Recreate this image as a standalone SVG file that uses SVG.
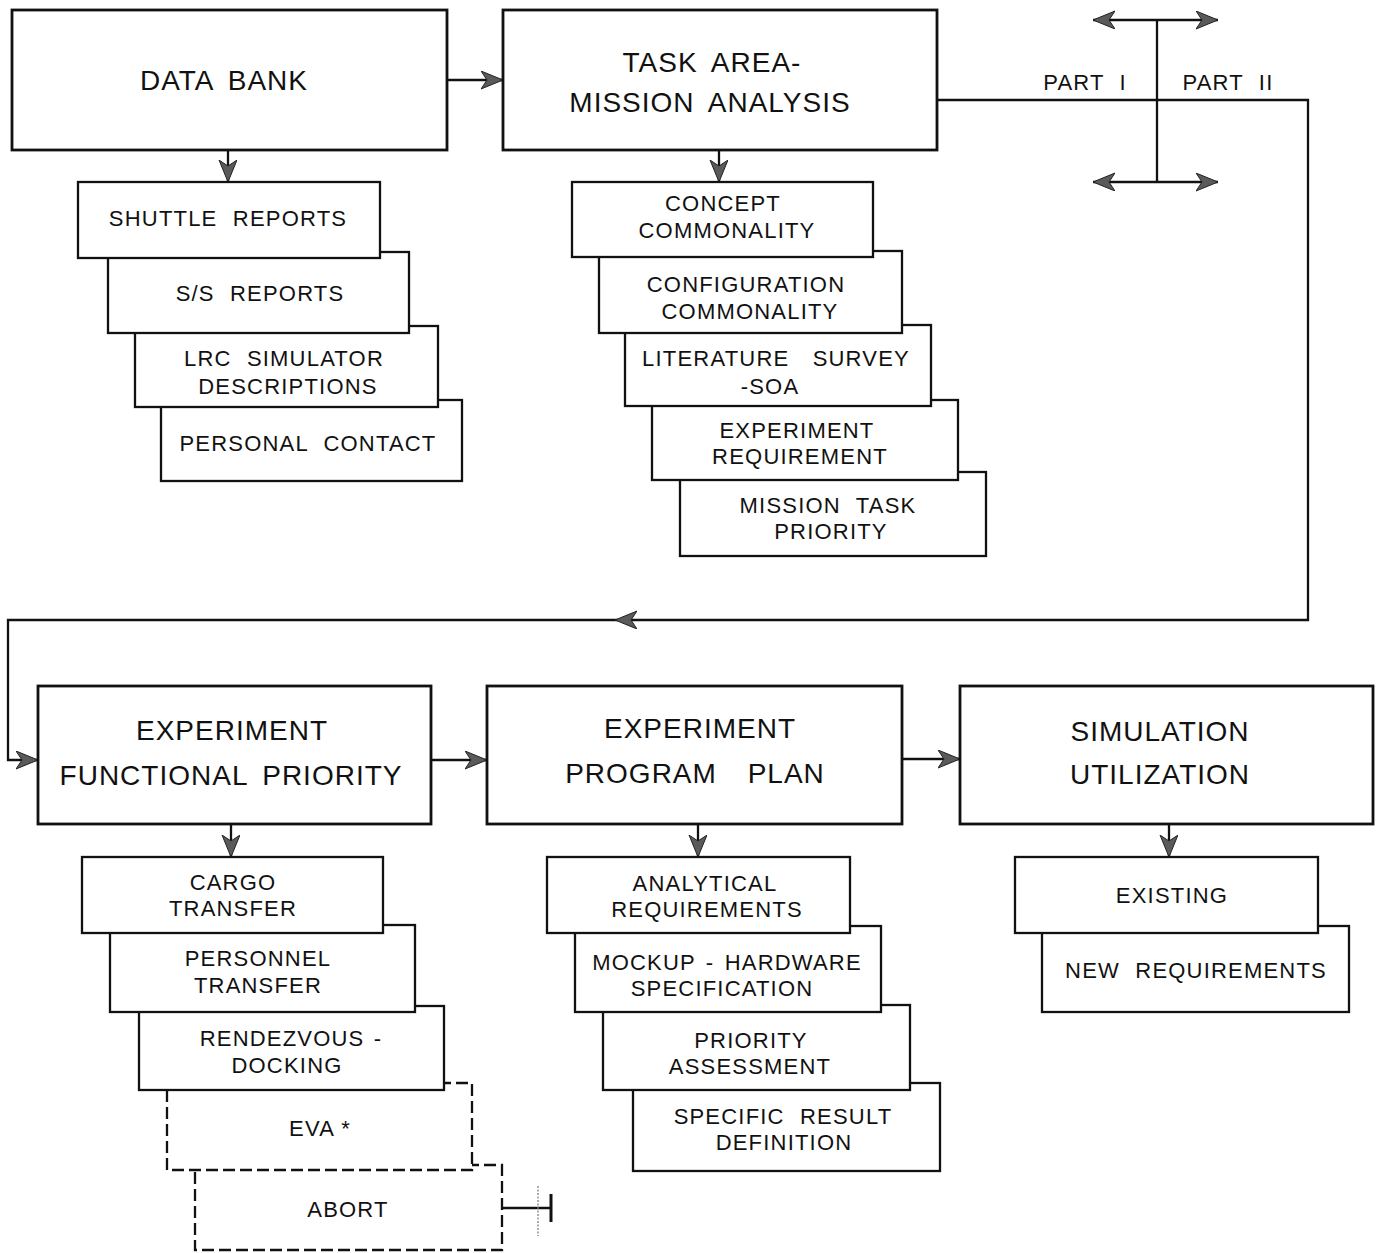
<svg xmlns="http://www.w3.org/2000/svg" width="1381" height="1253" viewBox="0 0 1381 1253">
<defs>
<style>
.main{fill:#fff;stroke:#111;stroke-width:2.8}
.sub{fill:#fff;stroke:#111;stroke-width:2.3}
.dash{fill:#fff;stroke:#111;stroke-width:2.3;stroke-dasharray:12 5}
.t1{font-family:"Liberation Sans",Arial,sans-serif;font-size:28px;letter-spacing:1px;word-spacing:6px;fill:#111;text-anchor:middle}
.t2{font-family:"Liberation Sans",Arial,sans-serif;font-size:22px;letter-spacing:1.2px;word-spacing:8px;fill:#111;text-anchor:middle}
.c{fill:none;stroke:#111;stroke-width:2.3}
</style>
<marker id="ah" markerUnits="userSpaceOnUse" markerWidth="24" markerHeight="20" refX="22" refY="9" orient="auto">
<path d="M0,0 L22,9 L0,18 L6,9 Z" fill="#5a5a5a" stroke="#222" stroke-width="1"/>
</marker>
</defs>
<rect width="1381" height="1253" fill="#fff"/>

<g id="connectors">
<path class="c" d="M447,80 H503" marker-end="url(#ah)"/>
<path class="c" d="M228,150 V182" marker-end="url(#ah)"/>
<path class="c" d="M719,150 V182" marker-end="url(#ah)"/>
<path class="c" d="M937,100 H1308 V620 H615" marker-end="url(#ah)"/>
<path class="c" d="M615,620 H8 V760 H38" marker-end="url(#ah)"/>
<path class="c" d="M1157,20 V182"/>
<path class="c" d="M1157,20 H1093" marker-end="url(#ah)"/>
<path class="c" d="M1157,20 H1218" marker-end="url(#ah)"/>
<path class="c" d="M1157,182 H1093" marker-end="url(#ah)"/>
<path class="c" d="M1157,182 H1218" marker-end="url(#ah)"/>
<path class="c" d="M431,760 H487" marker-end="url(#ah)"/>
<path class="c" d="M902,759 H960" marker-end="url(#ah)"/>
<path class="c" d="M231,824 V857" marker-end="url(#ah)"/>
<path class="c" d="M698,824 V857" marker-end="url(#ah)"/>
<path class="c" d="M1169,824 V857" marker-end="url(#ah)"/>
<path class="c" d="M502,1208 H551"/>
<path d="M538,1186 V1236" stroke="#777" stroke-width="1.2" stroke-dasharray="2 1.5"/>
<path d="M551,1194 V1222" stroke="#111" stroke-width="3"/>
</g>
<g id="labels-part">
<text class="t2" x="1085" y="90">PART I</text>
<text class="t2" x="1228" y="90">PART II</text>
</g>

<g id="data-bank">
<rect class="main" x="12" y="10" width="435" height="140"/>
<text class="t1" x="224" y="90">DATA BANK</text>
</g>
<g id="task-area">
<rect class="main" x="503" y="10" width="434" height="140"/>
<text class="t1" x="712" y="72">TASK AREA-</text>
<text class="t1" x="710" y="112">MISSION ANALYSIS</text>
</g>

<g id="personal-contact">
<rect class="sub" x="161" y="400" width="301" height="81"/>
<text class="t2" x="308" y="451">PERSONAL CONTACT</text>
</g>
<g id="lrc-simulator">
<rect class="sub" x="135" y="326" width="303" height="81"/>
<text class="t2" x="284" y="366">LRC SIMULATOR</text>
<text class="t2" x="288" y="394">DESCRIPTIONS</text>
</g>
<g id="ss-reports">
<rect class="sub" x="108" y="252" width="301" height="81"/>
<text class="t2" x="260" y="301">S/S REPORTS</text>
</g>
<g id="shuttle-reports">
<rect class="sub" x="78" y="182" width="302" height="76"/>
<text class="t2" x="228" y="226">SHUTTLE REPORTS</text>
</g>

<g id="mission-task-priority">
<rect class="sub" x="680" y="472" width="306" height="84"/>
<text class="t2" x="828" y="513">MISSION TASK</text>
<text class="t2" x="831" y="539">PRIORITY</text>
</g>
<g id="experiment-requirement">
<rect class="sub" x="652" y="400" width="306" height="80"/>
<text class="t2" x="797" y="438">EXPERIMENT</text>
<text class="t2" x="800" y="464">REQUIREMENT</text>
</g>
<g id="literature-survey">
<rect class="sub" x="625" y="325" width="306" height="81"/>
<text class="t2" x="776" y="366" style="word-spacing:16px">LITERATURE SURVEY</text>
<text class="t2" x="770" y="394">-SOA</text>
</g>
<g id="configuration-commonality">
<rect class="sub" x="599" y="251" width="303" height="82"/>
<text class="t2" x="746" y="292">CONFIGURATION</text>
<text class="t2" x="750" y="319">COMMONALITY</text>
</g>
<g id="concept-commonality">
<rect class="sub" x="572" y="182" width="301" height="75"/>
<text class="t2" x="723" y="211">CONCEPT</text>
<text class="t2" x="727" y="238">COMMONALITY</text>
</g>

<g id="experiment-functional-priority">
<rect class="main" x="38" y="686" width="393" height="138"/>
<text class="t1" x="232" y="740">EXPERIMENT</text>
<text class="t1" x="231" y="785">FUNCTIONAL PRIORITY</text>
</g>
<g id="experiment-program-plan">
<rect class="main" x="487" y="686" width="415" height="138"/>
<text class="t1" x="700" y="738">EXPERIMENT</text>
<text class="t1" x="695" y="783" style="word-spacing:22px">PROGRAM PLAN</text>
</g>
<g id="simulation-utilization">
<rect class="main" x="960" y="686" width="413" height="138"/>
<text class="t1" x="1160" y="741">SIMULATION</text>
<text class="t1" x="1160" y="784">UTILIZATION</text>
</g>

<g id="abort">
<rect class="dash" x="195" y="1165" width="307" height="85"/>
<text class="t2" x="348" y="1217">ABORT</text>
</g>
<g id="eva">
<rect class="dash" x="167" y="1083" width="305" height="87"/>
<text class="t2" x="320" y="1136" style="word-spacing:0px">EVA *</text>
</g>
<g id="rendezvous-docking">
<rect class="sub" x="139" y="1006" width="305" height="84"/>
<text class="t2" x="291" y="1046" style="word-spacing:2px">RENDEZVOUS -</text>
<text class="t2" x="287" y="1073">DOCKING</text>
</g>
<g id="personnel-transfer">
<rect class="sub" x="110" y="925" width="305" height="87"/>
<text class="t2" x="258" y="966">PERSONNEL</text>
<text class="t2" x="258" y="993">TRANSFER</text>
</g>
<g id="cargo-transfer">
<rect class="sub" x="82" y="857" width="301" height="76"/>
<text class="t2" x="233" y="890">CARGO</text>
<text class="t2" x="233" y="916">TRANSFER</text>
</g>

<g id="specific-result-definition">
<rect class="sub" x="633" y="1083" width="307" height="88"/>
<text class="t2" x="783" y="1124">SPECIFIC RESULT</text>
<text class="t2" x="784" y="1150">DEFINITION</text>
</g>
<g id="priority-assessment">
<rect class="sub" x="603" y="1005" width="307" height="85"/>
<text class="t2" x="751" y="1048">PRIORITY</text>
<text class="t2" x="750" y="1074">ASSESSMENT</text>
</g>
<g id="mockup-hardware">
<rect class="sub" x="575" y="926" width="306" height="86"/>
<text class="t2" x="727" y="970" style="word-spacing:3px">MOCKUP - HARDWARE</text>
<text class="t2" x="722" y="996">SPECIFICATION</text>
</g>
<g id="analytical-requirements">
<rect class="sub" x="547" y="857" width="303" height="76"/>
<text class="t2" x="705" y="891">ANALYTICAL</text>
<text class="t2" x="707" y="917">REQUIREMENTS</text>
</g>

<g id="new-requirements">
<rect class="sub" x="1042" y="926" width="307" height="86"/>
<text class="t2" x="1196" y="978">NEW REQUIREMENTS</text>
</g>
<g id="existing">
<rect class="sub" x="1015" y="857" width="303" height="76"/>
<text class="t2" x="1172" y="903">EXISTING</text>
</g>
</svg>
